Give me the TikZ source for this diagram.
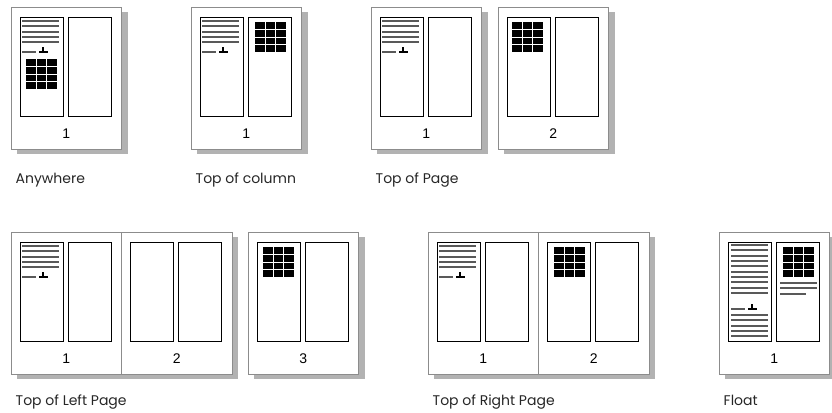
\documentclass[tikz,border=0pt]{standalone}
\usepackage{fontspec}
\setmainfont{Liberation Sans}
\newfontfamily\labelfont{Poppins}

\newcommand{\drawshadow}[3]{% x, y, width
  \fill[shadow] (#1+6,#2+5) rectangle ++(#3,142);
}
\newcommand{\drawsheet}[4]{% name, x, y, page number
  \draw[sheet] (#2,#3) rectangle ++(110.5,142);
  \draw[column] (#2+9,#3+10) rectangle ++(43,99);
  \draw[column] (#2+57,#3+10) rectangle ++(43,99);
  \node[pagenum] (#1) at (#2+55.25,#3+131) {#4};
}
\newcommand{\drawlines}[3]{% x, y, count
  \foreach \row in {1,...,#3}
    \draw[textline] (#1,#2+5.35*\row-5.35) -- ++(37,0);
}
\newcommand{\drawanchor}[2]{% x, y
  \draw[textline] (#1,#2) -- ++(14,0);
  \draw[anchorline] (#1+21,#2-5) -- (#1+21,#2);
  \draw[anchorline] (#1+17,#2) -- (#1+26,#2);
}
\newcommand{\drawtable}[2]{% x, y
  \fill (#1,#2) rectangle ++(31,30);
  \foreach \cx in {10.3,20.6}
    \draw[white,line width=0.75pt] (#1+\cx,#2) -- ++(0,30);
  \foreach \cy in {7.5,15,22.5}
    \draw[white,line width=0.75pt] (#1,#2+\cy) -- ++(31,0);
}

\begin{document}
\begin{tikzpicture}[x=0.75pt,y=-0.75pt,
  shadow/.style={fill=black!30},
  sheet/.style={draw=black!45,fill=white,line width=0.6pt},
  column/.style={draw=black,line width=0.75pt},
  textline/.style={draw=black!65,line width=1.5pt},
  anchorline/.style={draw=black,line width=1.5pt},
  pagenum/.style={anchor=base,font=\fontsize{10.5}{12}\selectfont},
  caption/.style={anchor=base west,text=black!85,font=\labelfont\fontsize{10.5}{12}\selectfont}]
\useasboundingbox (0,0) rectangle (832,412);
\clip (0,0) rectangle (832,412);

% top row
\drawshadow{11}{7}{110.5}
\drawsheet{any1}{11}{7}{1}
\drawlines{22}{21}{5}
\drawanchor{22}{52}
\drawtable{26}{59}
\node[caption] (cap-any) at (11,183) {Anywhere};

\drawshadow{191}{7}{110.5}
\drawsheet{col1}{191}{7}{1}
\drawlines{202}{21}{5}
\drawanchor{202}{52}
\drawtable{255}{22}
\node[caption] (cap-col) at (191,183) {Top of column};

\drawshadow{371}{7}{110.5}
\drawsheet{top1}{371}{7}{1}
\drawlines{382}{21}{5}
\drawanchor{382}{52}
\drawshadow{498}{7}{110.5}
\drawsheet{top2}{498}{7}{2}
\drawtable{512}{22}
\node[caption] (cap-top) at (371,183) {Top of Page};

% bottom row
\drawshadow{11}{232}{221}
\drawsheet{left1}{11}{232}{1}
\drawsheet{left2}{121.5}{232}{2}
\drawlines{22}{246}{5}
\drawanchor{22}{277}
\drawshadow{248}{232}{110.5}
\drawsheet{left3}{248}{232}{3}
\drawtable{263}{247}
\node[caption] (cap-left) at (11,405) {Top of Left Page};

\drawshadow{428}{232}{221}
\drawsheet{right1}{428}{232}{1}
\drawsheet{right2}{538.5}{232}{2}
\drawlines{439}{246}{5}
\drawanchor{439}{277}
\drawtable{554}{247}
\node[caption] (cap-right) at (428,405) {Top of Right Page};

\drawshadow{719}{232}{110.5}
\drawsheet{float1}{719}{232}{1}
\drawlines{731}{245}{10}
\drawanchor{731}{309}
\drawlines{731}{315}{5}
\drawtable{783}{247}
\drawlines{780}{283}{2}
\draw[textline] (780,293.7) -- ++(26,0);
\node[caption] (cap-float) at (719,405) {Float};
\end{tikzpicture}
\end{document}
